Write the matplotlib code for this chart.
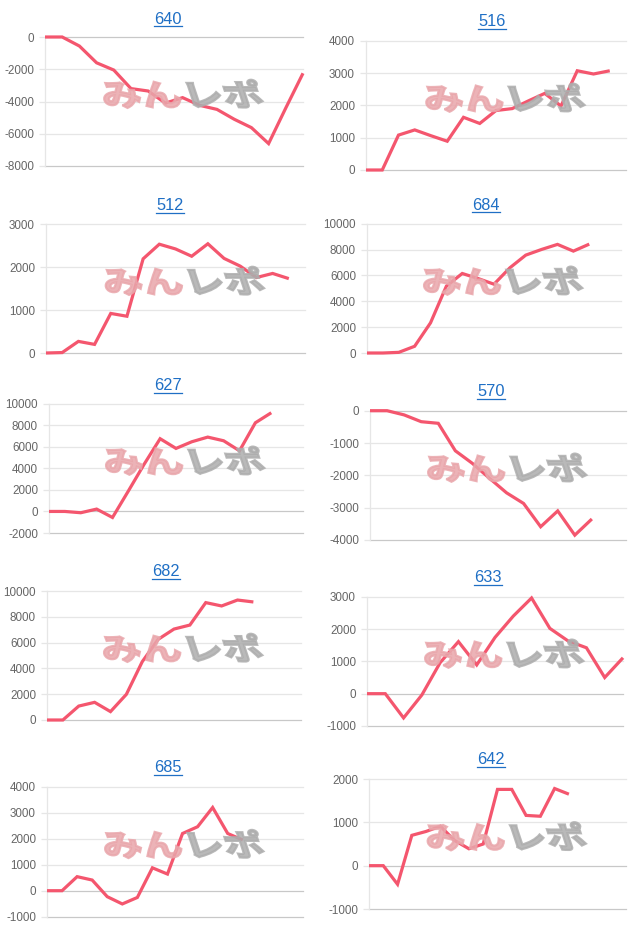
import matplotlib
matplotlib.use("Agg")
import matplotlib.pyplot as plt
from matplotlib.textpath import TextPath
from matplotlib.patches import PathPatch
from matplotlib.font_manager import FontProperties
from matplotlib.transforms import Affine2D, IdentityTransform
from matplotlib.lines import Line2D

plt.rcParams['font.family'] = ['Liberation Sans', 'DejaVu Sans']

# ---- data ----
titles = ["640", "516", "512", "684", "627", "570", "682", "633", "685", "642"]
n_labels = [16, 17, 17, 17, 17, 16, 17, 15, 18, 19]
v640 = [0, 0, -560, -1600, -2050, -3200, -3350, -4100, -3760, -4240, -4490, -5100, -5620, -6610, -4400, -2250]
v516 = [0, 0, 1080, 1240, 1060, 890, 1630, 1440, 1840, 1900, 2140, 2370, 1980, 3070, 2970, 3070]
v512 = [0, 10, 270, 200, 920, 855, 2190, 2530, 2420, 2250, 2540, 2200, 2020, 1755, 1850, 1730]
v684 = [0, 0, 50, 520, 2330, 5170, 6150, 5760, 5320, 6590, 7570, 8010, 8400, 7880, 8420]
v627 = [0, 0, -120, 220, -560, 1900, 4400, 6750, 5850, 6470, 6900, 6560, 5630, 8230, 9160]
v570 = [0, 0, -130, -340, -390, -1240, -1630, -2090, -2540, -2870, -3590, -3100, -3850, -3350]
v682 = [0, 0, 1080, 1370, 650, 1990, 4520, 6250, 7050, 7360, 9100, 8840, 9300, 9150]
v633 = [0, 0, -750, -40, 960, 1610, 890, 1740, 2400, 2960, 2020, 1630, 1420, 500, 1110]
v685 = [0, 0, 540, 410, -230, -510, -260, 880, 640, 2200, 2460, 3200, 2200, 1950]
v642 = [0, 0, -430, 700, 790, 910, 580, 390, 500, 1760, 1760, 1160, 1140, 1780, 1650]
series = [v640, v516, v512, v684, v627, v570, v682, v633, v685, v642]
y_min = [-8000, 0, 0, 0, -2000, -4000, 0, -1000, -1000, -1000]
y_max = [0, 4000, 3000, 10000, 10000, 0, 10000, 3000, 4000, 2000]
y_step = [2000, 1000, 1000, 2000, 2000, 1000, 2000, 1000, 1000, 1000]

# ---- layout (pixels) ----
W, H = 640, 931
boxes = [  # x0, x1, ytop, ybottom
    (45, 303, 37, 166), (366, 626, 40.7, 170),
    (46, 305, 224, 353), (367, 621, 223.7, 353),
    (49, 303, 403.7, 533), (370, 626, 410.7, 540),
    (47, 301, 591, 720), (367, 623, 596.7, 726),
    (47, 303, 786.7, 916.7), (369, 626, 779, 909),
]
title_pos = [(168, 19), (492, 22), (170, 206), (486, 205), (168, 386),
             (491, 392), (166, 572), (488, 578), (168, 768), (491, 760)]

LINE = "#f4566e"
GRID = "#e6e6e6"
ZERO = "#c8c8c8"
TICK = "#666666"
BLUE = "#1f6fc5"

fig = plt.figure(figsize=(W / 100, H / 100), dpi=100)
fig.patch.set_facecolor("white")

axes = []
for i in range(10):
    x0, x1, yt, yb = boxes[i]
    ax = fig.add_axes([x0 / W, 1 - yb / H, (x1 - x0) / W, (yb - yt) / H])
    vals = series[i]
    ax.plot(range(len(vals)), vals, color=LINE, lw=2.3, zorder=5,
            solid_joinstyle="miter", solid_capstyle="butt", clip_on=False)
    ax.set_xlim(0, n_labels[i] - 1)
    ax.set_ylim(y_min[i], y_max[i])
    ticks = list(range(y_min[i], y_max[i] + 1, y_step[i]))
    ax.set_yticks(ticks)
    ax.set_yticklabels([str(t) for t in ticks])
    ax.set_xticks([])
    for t in ticks:
        c = ZERO if (t == 0 or t == y_min[i]) else GRID
        ax.axhline(t, color=c, lw=0.9, zorder=1, clip_on=False)
    for s in ["top", "right", "bottom"]:
        ax.spines[s].set_visible(False)
    ax.spines["left"].set_color(GRID)
    ax.spines["left"].set_linewidth(0.9)
    ax.tick_params(axis="y", length=4, width=0.9, color=GRID, pad=4,
                   labelsize=8.4, labelcolor=TICK)
    ax.set_facecolor("none")
    axes.append(ax)

    # title
    tx, ty = title_pos[i]
    fig.text(tx / W, 1 - ty / H, titles[i], ha="center", va="center",
             fontsize=11.8, color=BLUE)

# watermark "みんレポ" drawn as text paths
fp = FontProperties(family="Noto Sans CJK JP", weight="bold")
for ax in axes:
    pos = ax.get_position()
    cx = (pos.x0 + 0.54 * pos.width) * W
    cy = (pos.y0 + 0.56 * pos.height) * H
    for txt, col, off in [("みん", "#e9a6ab", -80), ("レポ", "#adadad", 2)]:
        tp = TextPath((0, 0), txt, size=1, prop=fp)
        tr = Affine2D().skew_deg(-14, 0).scale(40, 30).translate(cx + off, cy - 12)
        patch = PathPatch(tr.transform_path(tp), facecolor=col, edgecolor=col,
                          lw=1.6, alpha=0.85, transform=IdentityTransform(), zorder=2)
        fig.add_artist(patch)

# underline titles
fig.canvas.draw()
r = fig.canvas.get_renderer()
for t in fig.texts:
    bb = t.get_window_extent(renderer=r)
    y = bb.y0 + 1
    fig.add_artist(Line2D([bb.x0 / W, bb.x1 / W], [y / H, y / H], color=BLUE,
                          lw=0.9, transform=fig.transFigure))

fig.savefig("out.png", dpi=100, facecolor="white")
